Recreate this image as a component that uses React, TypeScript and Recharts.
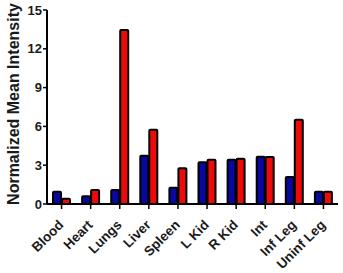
import { BarChart, Bar, XAxis, YAxis } from 'recharts';

const organs = ['Blood', 'Heart', 'Lungs', 'Liver', 'Spleen', 'L Kid', 'R Kid', 'Int', 'Inf Leg', 'Uninf Leg'];
const blueValues = [0.95, 0.59, 1.08, 3.74, 1.26, 3.22, 3.43, 3.66, 2.09, 0.95];
const redValues = [0.41, 1.08, 13.45, 5.75, 2.76, 3.43, 3.5, 3.64, 6.52, 0.95];
const yTicks = [0, 3, 6, 9, 12, 15];

const data = organs.map((name, i) => ({ name, blue: blueValues[i], red: redValues[i] }));

const font = '"Liberation Sans", Arial, sans-serif';

export default function App() {
  return (
    <div style={{ position: 'absolute', left: 0, top: 0, width: 343, height: 273, background: '#fff' }}>
      <BarChart
        width={343}
        height={273}
        data={data}
        margin={{ top: 10, right: 5, left: 0, bottom: 0 }}
        barGap={1}
        barCategoryGap="16%"
      >
        <XAxis
          dataKey="name"
          interval={0}
          height={69}
          angle={-45}
          textAnchor="end"
          axisLine={{ stroke: '#000', strokeWidth: 2 }}
          tickLine={{ stroke: '#000', strokeWidth: 1.5 }}
          tickSize={5}
          tickMargin={10}
          tick={{ fill: '#1a1a1a', fontSize: 13.5, fontWeight: 700, fontFamily: font, dx: -4 }}
        />
        <YAxis
          width={47}
          domain={[0, 15]}
          ticks={yTicks}
          interval={0}
          axisLine={{ stroke: '#000', strokeWidth: 2 }}
          tickLine={{ stroke: '#000', strokeWidth: 1.5 }}
          tickSize={4}
          tickMargin={1}
          tick={{ fill: '#1a1a1a', fontSize: 13, fontWeight: 700, fontFamily: font }}
          label={{
            value: 'Normalized Mean Intensity',
            angle: -90,
            position: 'center',
            dx: -10,
            dy: -3,
            fill: '#1a1a1a',
            fontSize: 16,
            fontWeight: 700,
            fontFamily: font,
          }}
        />
        <Bar dataKey="blue" fill="#0808a0" stroke="#000" strokeWidth={2} barSize={8} radius={1} isAnimationActive={false} />
        <Bar dataKey="red" fill="#ee0a0a" stroke="#000" strokeWidth={2} barSize={8} radius={1} isAnimationActive={false} />
      </BarChart>
    </div>
  );
}
